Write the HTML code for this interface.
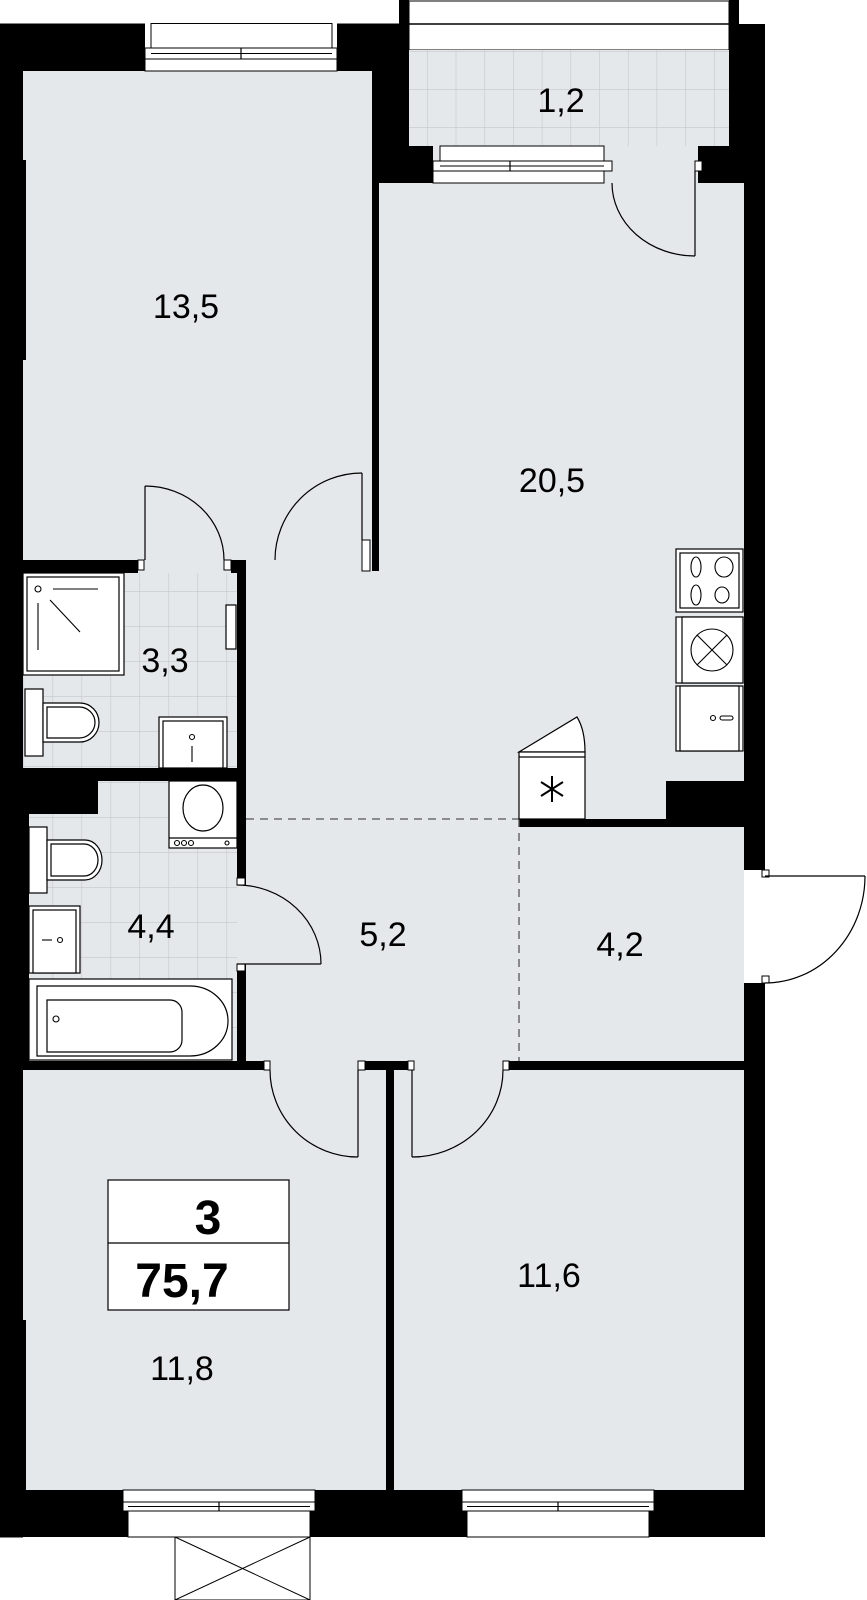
<!DOCTYPE html>
<html><head><meta charset="utf-8"><style>
html,body{margin:0;padding:0;background:#fff;}
svg{display:block;}
text{font-family:"Liberation Sans",sans-serif;fill:#000;}
</style></head><body>
<svg width="867" height="1600" viewBox="0 0 867 1600" xmlns="http://www.w3.org/2000/svg">
<defs>
<pattern id="tile" patternUnits="userSpaceOnUse" x="23.5" y="591" width="29" height="35">
<rect width="29" height="35" fill="#e5e8eb"/>
<path d="M0 0V35M0 0H29" stroke="#c4c8cc" stroke-width="1.2"/>
</pattern>
<pattern id="tile2" patternUnits="userSpaceOnUse" x="23.5" y="817" width="29" height="35">
<rect width="29" height="35" fill="#e5e8eb"/>
<path d="M0 0V35M0 0H29" stroke="#c4c8cc" stroke-width="1.2"/>
</pattern>
<pattern id="btile" patternUnits="userSpaceOnUse" x="427" y="51" width="28.7" height="38">
<rect width="28.7" height="38" fill="#e5e8eb"/>
<path d="M0 0V38M0 0H28.7" stroke="#c4c8cc" stroke-width="1.2"/>
</pattern>
</defs>

<rect x="23" y="71" width="721" height="1419" fill="#e5e8eb"/>
<rect x="23" y="573" width="214" height="195" fill="url(#tile)"/>
<rect x="29" y="781" width="208" height="280" fill="url(#tile2)"/>
<rect x="409" y="1" width="320" height="49" fill="#fff" stroke="#000" stroke-width="1"/>
<line x1="409" y1="24" x2="729" y2="24" stroke="#000" stroke-width="1.5"/>
<rect x="409" y="50" width="320" height="96" fill="url(#btile)"/>

<g fill="#000">
<rect x="399" y="0" width="10" height="183"/>
<rect x="729" y="0" width="10" height="30"/>
<rect x="729" y="24" width="36" height="122"/>
<rect x="698" y="146" width="67" height="37"/>
<rect x="399" y="146" width="34" height="37"/>
<rect x="0" y="23.5" width="145" height="47.5"/>
<rect x="337" y="23.5" width="72" height="47.5"/>
<rect x="372" y="71" width="37" height="112"/>
<rect x="372" y="183" width="7" height="388"/>
<rect x="0" y="23.5" width="23" height="1514"/>
<rect x="23" y="160" width="3" height="200"/>
<rect x="23" y="1320" width="3" height="170"/>
<rect x="744" y="183" width="21" height="687"/>
<rect x="744" y="983" width="21" height="554"/>
<rect x="0" y="560" width="138" height="13"/>
<rect x="231" y="560" width="15" height="13"/>
<rect x="237" y="573" width="9" height="312"/>
<rect x="237" y="964" width="9" height="97"/>
<rect x="0" y="768" width="246" height="13"/>
<rect x="0" y="781" width="98" height="33"/>
<rect x="0" y="781" width="29" height="280"/>
<rect x="519" y="819" width="225" height="8"/>
<rect x="666" y="781" width="78" height="46"/>
<rect x="0" y="1061" width="264" height="9"/>
<rect x="365" y="1061" width="43" height="9"/>
<rect x="509" y="1061" width="256" height="9"/>
<rect x="386" y="1061" width="8" height="429"/>
<rect x="0" y="1490" width="765" height="47"/>
</g>

<g fill="#fff" stroke="#000" stroke-width="1">
<rect x="138" y="560" width="6" height="10"/>
<rect x="224" y="560" width="7" height="10"/>
<rect x="362" y="540" width="8" height="31"/>
<rect x="237" y="878" width="8" height="7"/>
<rect x="237" y="964" width="8" height="7"/>
<rect x="264" y="1061" width="6" height="9"/>
<rect x="358" y="1061" width="7" height="9"/>
<rect x="408" y="1061" width="6" height="9"/>
<rect x="503" y="1061" width="6" height="9"/>
<rect x="762" y="870" width="7" height="7"/>
<rect x="762" y="976" width="7" height="7"/>
<rect x="695" y="161" width="7" height="10"/>
</g>

<g fill="#fff" stroke="#000" stroke-width="1">
<rect x="151" y="23.5" width="181" height="24.5"/>
<rect x="145" y="48" width="192" height="11"/>
<line x1="151" y1="53.5" x2="332" y2="53.5"/>
<rect x="145" y="59" width="192" height="12"/>
<rect x="440" y="146" width="164" height="15"/>
<rect x="433" y="161" width="179" height="10"/>
<line x1="440" y1="166" x2="604" y2="166"/>
<rect x="433" y="171" width="171" height="12"/>
<rect x="123" y="1490" width="192" height="12"/>
<rect x="123" y="1502" width="192" height="9"/>
<line x1="128" y1="1506.5" x2="310" y2="1506.5"/>
<rect x="128" y="1511" width="182" height="26"/>
<rect x="462" y="1490" width="192" height="12"/>
<rect x="462" y="1502" width="192" height="9"/>
<line x1="467" y1="1506.5" x2="649" y2="1506.5"/>
<rect x="467" y="1511" width="182" height="26"/>
<rect x="175" y="1537" width="135" height="63"/>
<line x1="175" y1="1537" x2="310" y2="1600"/>
<line x1="310" y1="1537" x2="175" y2="1600"/>
</g>
<g stroke="#000" stroke-width="1.2">
<line x1="241" y1="48" x2="241" y2="59"/>
<line x1="510" y1="161" x2="510" y2="171"/>
<line x1="219" y1="1502" x2="219" y2="1511"/>
<line x1="558" y1="1502" x2="558" y2="1511"/>
</g>

<g fill="none" stroke="#000" stroke-width="1.2">
<line x1="695" y1="171" x2="695" y2="256"/>
<path d="M612 183 A83 73 0 0 0 695 256"/>
<line x1="145" y1="486" x2="145" y2="560"/>
<path d="M145 486 A79 74 0 0 1 224 560"/>
<line x1="362" y1="473" x2="362" y2="540"/>
<path d="M362 473 A87 87 0 0 0 275 560"/>
<line x1="237" y1="964" x2="321" y2="964"/>
<path d="M237 885 A84 79 0 0 1 321 964"/>
<line x1="358" y1="1070" x2="358" y2="1157"/>
<path d="M270 1070 A88 87 0 0 0 358 1157"/>
<line x1="412" y1="1070" x2="412" y2="1157"/>
<path d="M503 1070 A91 87 0 0 1 412 1157"/>
<line x1="765" y1="876" x2="865" y2="876"/>
<path d="M865 876 A100 107 0 0 1 765 983"/>
</g>

<g stroke="#555" stroke-width="1.3" stroke-dasharray="8,6" fill="none">
<line x1="246" y1="819" x2="519" y2="819"/>
<line x1="519" y1="819" x2="519" y2="1061"/>
</g>

<g fill="#fff" stroke="#000" stroke-width="1.2">
<rect x="23" y="573" width="101" height="102"/>
<rect x="27" y="577" width="92" height="94"/>
<rect x="25" y="689" width="18" height="67"/>
<path d="M43 703 H80 A19 19.5 0 0 1 80 742 H43 Z"/>
<path d="M47 707 H79 A16 15.5 0 0 1 79 738 H47 Z"/>
<rect x="159" y="717" width="68" height="51"/>
<rect x="163" y="721" width="60" height="47"/>
<rect x="226" y="605" width="10" height="44"/>
<rect x="169" y="781" width="68" height="67"/>
<line x1="169" y1="838" x2="237" y2="838"/>
<ellipse cx="203" cy="808" rx="20" ry="23"/>
<rect x="29" y="827" width="18" height="66"/>
<path d="M47 840 H85 A17 20 0 0 1 85 880 H47 Z"/>
<path d="M51 844 H84 A14 16 0 0 1 84 876 H51 Z"/>
<rect x="29" y="906" width="51" height="67"/>
<rect x="33" y="910" width="43" height="63"/>
<rect x="29" y="979" width="203" height="81"/>
<path d="M37 986 H190 A38 35 0 0 1 190 1056 H37 Z"/>
<path d="M47 1000 H170 A12 12 0 0 1 182 1012 V1040 A12 12 0 0 1 170 1052 H47 Z"/>
<rect x="676" y="549" width="67" height="63"/>
<rect x="680" y="553" width="59" height="55"/>
<rect x="676" y="617" width="67" height="66"/>
<rect x="682" y="617" width="61" height="66"/>
<rect x="676" y="686" width="67" height="65"/>
<rect x="680" y="686" width="59" height="65"/>
<path d="M519 752 L577 717 Q585 730 585 752 Z"/>
<rect x="519" y="752" width="66" height="67"/>
<line x1="519" y1="757" x2="585" y2="757"/>
</g>
<g fill="none" stroke="#000" stroke-width="1.1">
<circle cx="38" cy="589" r="3"/>
<line x1="53" y1="589" x2="98" y2="589"/>
<line x1="50" y1="600" x2="80" y2="632"/>
<line x1="38" y1="603" x2="38" y2="650"/>
<circle cx="192" cy="737" r="2.5"/>
<line x1="192" y1="746" x2="192" y2="762"/>
<circle cx="60" cy="940" r="2.5"/>
<line x1="42" y1="940" x2="52" y2="940"/>
<circle cx="56" cy="1019" r="3"/>
<circle cx="177" cy="843" r="2.5"/><circle cx="184" cy="843" r="2.5"/><circle cx="191" cy="843" r="2.5"/><circle cx="227" cy="843" r="2"/>
<ellipse cx="696" cy="567" rx="5" ry="10"/><ellipse cx="724" cy="567" rx="9" ry="10"/>
<ellipse cx="696" cy="595" rx="5" ry="10"/><ellipse cx="722" cy="595" rx="7" ry="8"/>
<circle cx="712" cy="650" r="21"/>
<line x1="697" y1="635" x2="727" y2="665"/>
<line x1="727" y1="635" x2="697" y2="665"/>
<circle cx="713" cy="718" r="2.5"/>
<rect x="720" y="716" width="13" height="4" rx="2"/>
<path d="M552 776 V802 M541 782 L563 796 M563 782 L541 796" stroke-width="2"/>
</g>

<rect x="108" y="1180" width="181" height="130" fill="#fff" stroke="#000" stroke-width="1.2"/>
<line x1="108" y1="1243" x2="289" y2="1243" stroke="#000" stroke-width="1.2"/>
<text x="208" y="1234" font-size="48" font-weight="bold" text-anchor="middle">3</text>
<text x="182" y="1297" font-size="48" font-weight="bold" text-anchor="middle">75,7</text>

<g font-size="34" text-anchor="middle">
<text x="561" y="112">1,2</text>
<text x="186" y="318">13,5</text>
<text x="552" y="492">20,5</text>
<text x="165" y="672">3,3</text>
<text x="151" y="938">4,4</text>
<text x="383" y="946">5,2</text>
<text x="620" y="956">4,2</text>
<text x="549" y="1287">11,6</text>
<text x="182" y="1380">11,8</text>
</g>
</svg>
</body></html>
